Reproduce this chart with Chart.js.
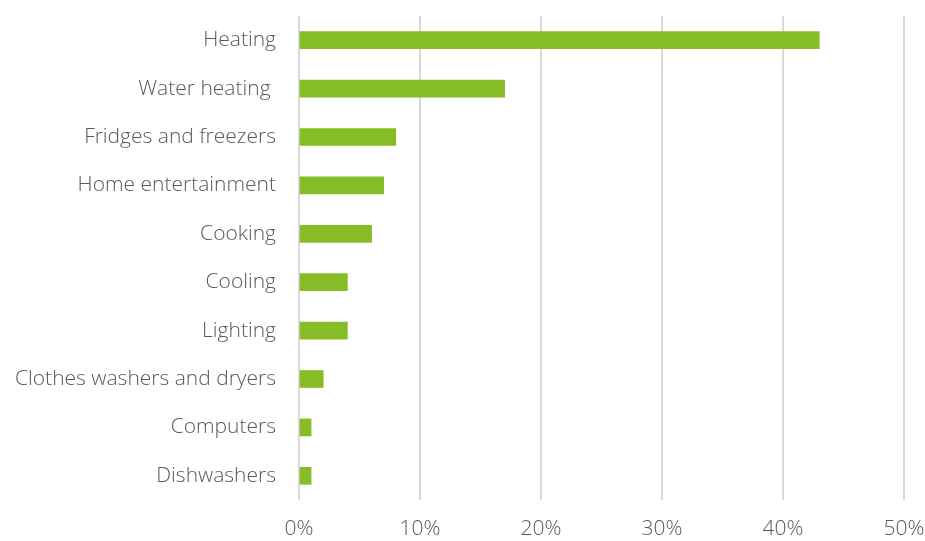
<!DOCTYPE html>
<html>
<head>
<meta charset="utf-8">
<script src="https://cdn.jsdelivr.net/npm/chart.js@4"></script>
<style>
html,body{margin:0;padding:0;background:#fff;}
#wrap{width:925px;height:541px;}
</style>
</head>
<body>
<div id="wrap"><canvas id="c" width="925" height="541"></canvas></div>
<script>
const categories = ["Heating","Water heating ","Fridges and freezers","Home entertainment","Cooking","Cooling","Lighting","Clothes washers and dryers","Computers","Dishwashers"];
const shares = [43,17,8,7,6,4,4,2,1,1];
const xTicks = [0,10,20,30,40,50];

const FONT = "'Open Sans', sans-serif";
new Chart(document.getElementById('c'), {
  type: 'bar',
  data: {
    labels: categories,
    datasets: [{
      data: shares,
      backgroundColor: '#86BC25',
      borderWidth: 0,
      barThickness: 17
    }]
  },
  options: {
    indexAxis: 'y',
    responsive: false,
    animation: false,
    devicePixelRatio: 1,
    layout: { padding: 0 },
    plugins: { legend: { display: false }, tooltip: { enabled: false } },
    scales: {
      x: {
        min: 0, max: 50,
        afterBuildTicks: s => { s.ticks = xTicks.map(v => ({ value: v })); },
        afterFit: s => { s.height = 41; s.paddingLeft = 0; s.paddingRight = 21; },
        grid: { color: '#d9d9d9', lineWidth: 2, drawTicks: false },
        border: { display: false },
        ticks: {
          padding: 16,
          color: '#595959',
          font: { family: FONT, size: 21, weight: '300' },
          callback: v => v + '%'
        }
      },
      y: {
        afterFit: s => { s.width = 299; s.paddingTop = 16; s.paddingBottom = 0; },
        grid: { display: false, drawTicks: false },
        border: { display: false },
        ticks: {
          padding: 23,
          color: '#595959',
          font: { family: FONT, size: 21, weight: '300' }
        }
      }
    }
  }
});
</script>
</body>
</html>
